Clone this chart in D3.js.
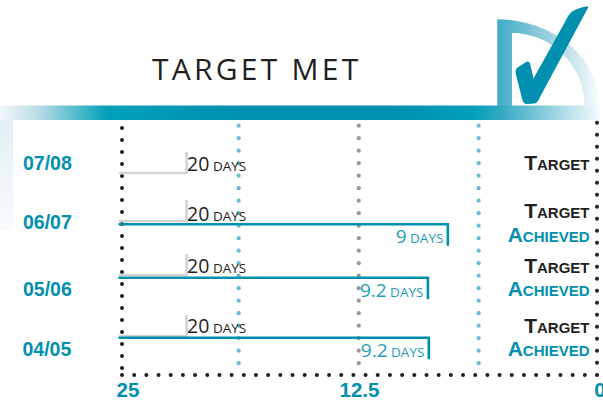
<!DOCTYPE html>
<html><head><meta charset="utf-8">
<script src="https://cdn.jsdelivr.net/npm/d3@7"></script>
<style>html,body{margin:0;padding:0;background:#fff}svg{display:block}</style>
</head><body><div id="c"></div>
<script>
const periods = ["07/08","06/07","05/06","04/05"];
const targetLabels = ["20","20","20","20"];
const achievedPeriods = ["06/07","05/06","04/05"];
const achievedLabels = ["9","9.2","9.2"];
// bar ends as they sit against the printed axis (the original is not to scale)
const targetEnds = [21.6,21.6,21.6,21.6];
const achievedEnds = [7.85,8.9,8.85];
const axisTicks = [25,12.5,0];
const gridTicks = [18.86,12.54,6.23];
const gridColors = ["#67bdd3","#96989a","#67bdd3"];
const TEAL="#008fae", INK="#231f20", GREY="#d2d3d4";

const svg=d3.select("#c").append("svg").attr("width",603).attr("height",400);
const x=d3.scaleLinear().domain([25,0]).range([122,597]);
const gray=d3.scaleOrdinal(periods,[173,221,275,336]);
const teal=d3.scaleOrdinal(achievedPeriods,[224.3,277.7,337.7]);
const periodY=d3.scaleOrdinal(periods,[169.5,229,296,355.7]);
const periodX=d3.scaleOrdinal(periods,[23,23,23,22.5]);
const targetTextY=d3.scaleOrdinal(periods,[171,220.5,272.5,333]);
const achTextY=d3.scaleOrdinal(achievedPeriods,[243,297,356.5]);
const rightTargetY=d3.scaleOrdinal(periods,[170,217.7,272.5,332.7]);
const rightAchY=d3.scaleOrdinal(achievedPeriods,[241.7,295.7,355.7]);

const defs=svg.append("defs");
function grad(id,stops,x1,x2,y1=0,y2=0){
  const g=defs.append("linearGradient").attr("id",id).attr("gradientUnits","userSpaceOnUse")
    .attr("x1",x1).attr("x2",x2).attr("y1",y1).attr("y2",y2);
  stops.forEach(s=>g.append("stop").attr("offset",s[0]).attr("stop-color",s[1]));
}
grad("band",[[0,"#f2f8fa"],[.06,"#bfdde7"],[.18,"#00a1b9"],[.4,"#0090ae"],[.66,"#0090ae"],[.79,"#00a1b9"],[.84,"#3aaac3"],[1,"#f6fbfc"]],0,600);
grad("arc",[[0,"#3fadc6"],[.5,"#9acfdf"],[1,"#f8fcfd"]],497,599);
grad("side",[[0,"#e2f0f5"],[1,"#f8fbfd"]],0,0,120,230);

// decoration
svg.append("rect").attr("x",0).attr("y",120).attr("width",13).attr("height",110).attr("fill","url(#side)");
svg.append("path").attr("fill","url(#arc)").attr("fill-rule","evenodd")
  .attr("d","M497.3,106V19.3A102,86.7 0 0 1 599.3,106H584.5A72.5,73 0 0 0 512,33V106Z");

// dotted frame
const dots=(data,cx,cy,fill,r)=>svg.append("g").selectAll("circle").data(data).join("circle")
  .attr("cx",cx).attr("cy",cy).attr("r",r).attr("fill",fill);
dots(d3.range(128,372,12),x(25),d=>d,INK,2);
dots(d3.range(122.7,372,12),x(0),d=>d,INK,2);
dots(d3.range(0,40),d=>x(25)+d*(x(0)-x(25))/39,375,INK,2);
gridTicks.forEach((t,i)=>dots(d3.range(125.7,373,12.5),x(t),d=>d,gridColors[i],2.1));

svg.append("rect").attr("x",0).attr("y",105.5).attr("width",600).attr("height",14.5).attr("fill","url(#band)");
svg.append("path").attr("fill",TEAL)
  .attr("d","M587.5,6.2C581,7.5 574,9.5 571,12.5C568.5,15 567,18 565.5,21L533.5,78.5L530.2,64C529.5,61.5 527.5,61 525.8,62.2L517.5,67.5C515.8,68.8 515.3,71 515.8,74L522,98.5C523,102.5 524.5,104 527,104L534.5,103.5C537,103.3 538.5,100.5 540,97L587.8,8.3C588.3,7 588.2,6.2 587.5,6.2Z");

svg.append("text").text("TARGET MET").attr("x",152).attr("y",80)
  .attr("font-family","'Open Sans'").attr("font-size",30).attr("letter-spacing",3.25).attr("fill",INK);

// target marks
const tg=svg.append("g");
periods.forEach((p,i)=>{
  const xe=x(targetEnds[i]);
  tg.append("path").attr("fill","none").attr("stroke",GREY).attr("stroke-width",2.6)
    .attr("d",`M119,${gray(p)}H${xe}V${gray(p)-21}`);
  const t=tg.append("text").attr("x",xe+0.5).attr("y",targetTextY(p)).attr("fill",INK)
    .attr("font-family","'Open Sans'").attr("font-size",19.5);
  t.append("tspan").text(targetLabels[i]);
  t.append("tspan").text(" DAYS").attr("font-size",13.5);
});
// achieved marks
achievedPeriods.forEach((p,i)=>{
  const xe=x(achievedEnds[i]);
  svg.append("path").attr("fill","none").attr("stroke",TEAL).attr("stroke-width",2.6)
    .attr("d",`M118.5,${teal(p)}H${xe}V${teal(p)+21.5}`);
  const t=svg.append("text").attr("x",xe-4.5).attr("y",achTextY(p)).attr("text-anchor","end").attr("fill","#1f9cb7")
    .attr("font-family","'Open Sans'").attr("font-size",19);
  t.append("tspan").text(achievedLabels[i]);
  t.append("tspan").text(" DAYS").attr("font-size",13.5);
});

const bold=sel=>sel.attr("font-family","'Liberation Sans'").attr("font-weight",700);
periods.forEach(p=>{
  svg.append("text").text(p).attr("x",periodX(p)).attr("y",periodY(p)).attr("font-size",19.5).attr("fill",TEAL).call(bold);
  const t=svg.append("text").attr("x",589.5).attr("y",rightTargetY(p)).attr("text-anchor","end").attr("fill",INK).call(bold);
  t.append("tspan").text("T").attr("font-size",21);
  t.append("tspan").text("ARGET").attr("font-size",15);
});
achievedPeriods.forEach(p=>{
  const t=svg.append("text").attr("x",589.5).attr("y",rightAchY(p)).attr("text-anchor","end").attr("fill",TEAL).call(bold);
  t.append("tspan").text("A").attr("font-size",21);
  t.append("tspan").text("CHIEVED").attr("font-size",15);
});
// axis labels
svg.append("g").selectAll("text").data(axisTicks).join("text").text(d=>d)
  .attr("x",d=>d===0?x(0)+3:x(d)+(d===25?6:0)).attr("y",396.5).attr("text-anchor","middle")
  .attr("font-size",20.5).attr("fill",TEAL).call(bold);
</script></body></html>
